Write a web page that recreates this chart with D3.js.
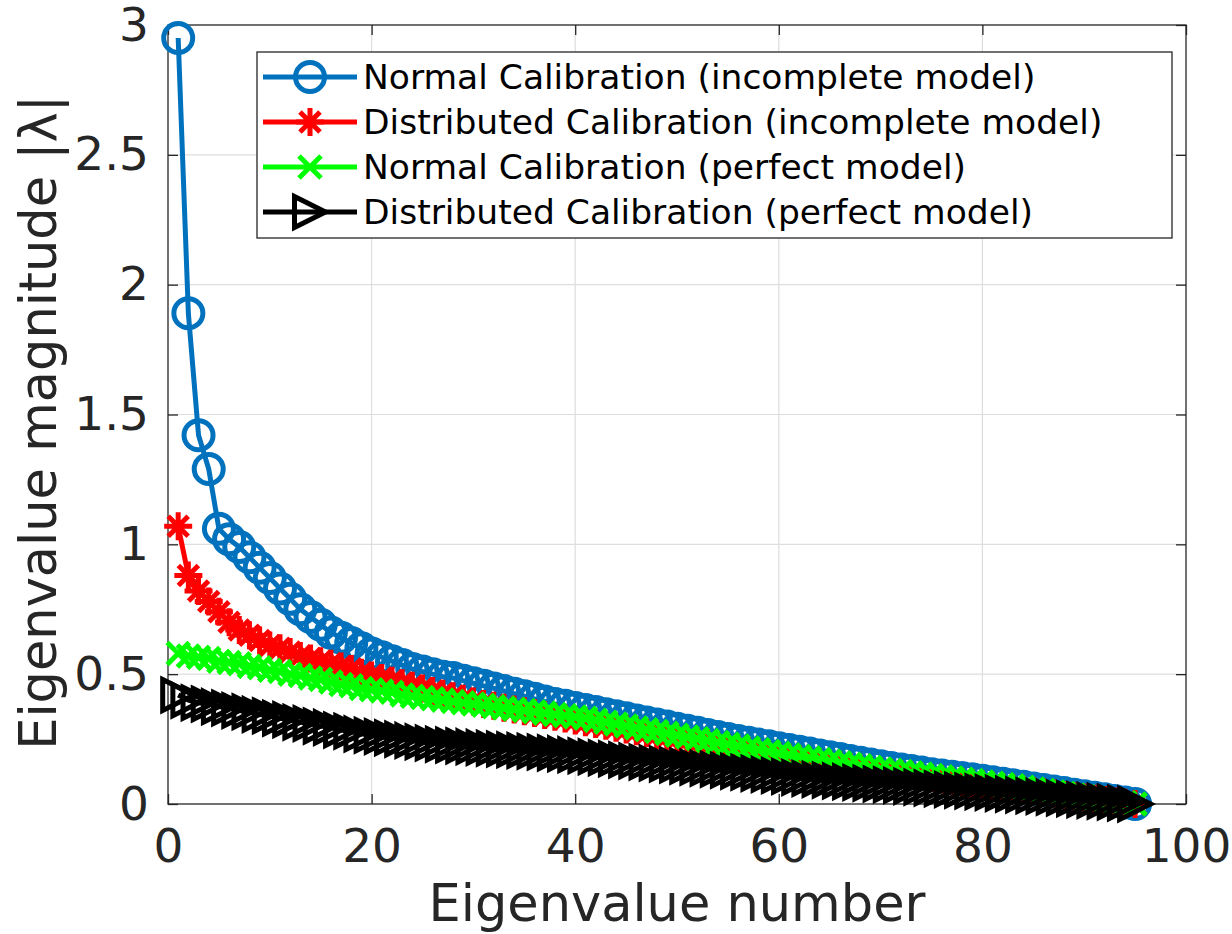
<!DOCTYPE html>
<html>
<head>
<meta charset="utf-8">
<script src="https://cdn.jsdelivr.net/npm/d3@7"></script>
<style>
  body { margin: 0; background: #fff; }
  text { font-family: "DejaVu Sans", sans-serif; }
</style>
</head>
<body>
<svg id="chart" width="1232" height="934"></svg>
<script>
// tick values
const xTicks = [0, 20, 40, 60, 80, 100];
const yTicks = [0, 0.5, 1, 1.5, 2, 2.5, 3];

// legend / series names
const seriesNames = [
  "Normal Calibration (incomplete model)",
  "Distributed Calibration (incomplete model)",
  "Normal Calibration (perfect model)",
  "Distributed Calibration (perfect model)"
];
const seriesColors = ["#0072BD", "#FF0000", "#00FF00", "#000000"];
const seriesMarkers = ["circle", "asterisk", "cross", "triangleRight"];

// eigenvalue magnitudes, eigenvalue number 1..95
const normalIncomplete = [
  2.95, 1.89, 1.42, 1.29, 1.06, 1.02, 0.99, 0.95, 0.91, 0.87,
  0.83, 0.79, 0.75, 0.72, 0.69, 0.66, 0.64, 0.62, 0.60, 0.58,
  0.565, 0.55, 0.535, 0.52, 0.51, 0.50, 0.49, 0.485, 0.475, 0.465,
  0.455, 0.445, 0.435, 0.425, 0.415, 0.405, 0.395, 0.385, 0.378, 0.37,
  0.362, 0.354, 0.346, 0.338, 0.33, 0.322, 0.314, 0.306, 0.298, 0.29,
  0.282, 0.274, 0.266, 0.258, 0.25, 0.243, 0.236, 0.229, 0.222, 0.215,
  0.208, 0.201, 0.194, 0.187, 0.18, 0.173, 0.166, 0.159, 0.152, 0.145,
  0.139, 0.133, 0.127, 0.121, 0.115, 0.11, 0.105, 0.1, 0.095, 0.09,
  0.084, 0.078, 0.072, 0.066, 0.06, 0.054, 0.048, 0.042, 0.036, 0.03,
  0.024, 0.018, 0.012, 0.006, 0.0
];
const distributedIncomplete = [
  1.07, 0.88, 0.82, 0.78, 0.74, 0.70, 0.67, 0.65, 0.63, 0.61,
  0.60, 0.585, 0.57, 0.56, 0.55, 0.54, 0.53, 0.52, 0.505, 0.495,
  0.485, 0.475, 0.465, 0.455, 0.445, 0.435, 0.425, 0.415, 0.405, 0.395,
  0.385, 0.378, 0.371, 0.364, 0.357, 0.35, 0.343, 0.336, 0.329, 0.322,
  0.315, 0.308, 0.301, 0.294, 0.287, 0.28, 0.273, 0.266, 0.259, 0.252,
  0.245, 0.238, 0.231, 0.224, 0.217, 0.21, 0.203, 0.196, 0.19, 0.184,
  0.178, 0.172, 0.166, 0.16, 0.154, 0.148, 0.142, 0.136, 0.13, 0.125,
  0.12, 0.115, 0.11, 0.105, 0.1, 0.095, 0.09, 0.085, 0.08, 0.075,
  0.07, 0.065, 0.06, 0.055, 0.05, 0.045, 0.04, 0.035, 0.03, 0.025,
  0.02, 0.015, 0.01, 0.005, 0.0
];
const normalPerfect = [
  0.58, 0.57, 0.565, 0.56, 0.55, 0.545, 0.54, 0.53, 0.525, 0.515,
  0.51, 0.50, 0.495, 0.485, 0.48, 0.47, 0.46, 0.455, 0.445, 0.44,
  0.435, 0.43, 0.42, 0.415, 0.41, 0.405, 0.40, 0.395, 0.39, 0.385,
  0.38, 0.375, 0.37, 0.365, 0.36, 0.355, 0.35, 0.345, 0.34, 0.335,
  0.33, 0.322, 0.315, 0.308, 0.30, 0.293, 0.286, 0.279, 0.272, 0.265,
  0.258, 0.251, 0.244, 0.237, 0.23, 0.223, 0.216, 0.209, 0.202, 0.195,
  0.189, 0.183, 0.177, 0.171, 0.165, 0.159, 0.153, 0.147, 0.141, 0.135,
  0.13, 0.125, 0.12, 0.115, 0.11, 0.105, 0.1, 0.095, 0.09, 0.085,
  0.08, 0.075, 0.07, 0.064, 0.058, 0.052, 0.046, 0.04, 0.034, 0.028,
  0.022, 0.016, 0.01, 0.005, 0.0
];
const distributedPerfect = [
  0.42, 0.40, 0.39, 0.385, 0.375, 0.37, 0.36, 0.355, 0.345, 0.34,
  0.33, 0.325, 0.315, 0.31, 0.30, 0.295, 0.285, 0.28, 0.27, 0.265,
  0.26, 0.255, 0.25, 0.245, 0.24, 0.235, 0.23, 0.227, 0.224, 0.221,
  0.218, 0.215, 0.212, 0.209, 0.206, 0.203, 0.2, 0.197, 0.194, 0.19,
  0.186, 0.182, 0.178, 0.174, 0.17, 0.166, 0.162, 0.158, 0.154, 0.15,
  0.146, 0.142, 0.138, 0.134, 0.13, 0.126, 0.122, 0.118, 0.114, 0.11,
  0.106, 0.102, 0.098, 0.095, 0.092, 0.089, 0.086, 0.083, 0.08, 0.077,
  0.074, 0.071, 0.068, 0.065, 0.062, 0.059, 0.056, 0.053, 0.05, 0.047,
  0.044, 0.041, 0.038, 0.035, 0.032, 0.029, 0.026, 0.023, 0.02, 0.017,
  0.014, 0.011, 0.008, 0.004, 0.0
];

const seriesValues = [normalIncomplete, distributedIncomplete, normalPerfect, distributedPerfect];

const svg = d3.select("#chart");
const margin = {top: 25, right: 46, bottom: 130, left: 168};
const width = 1232 - margin.left - margin.right;
const height = 934 - margin.top - margin.bottom;
const axisColor = "#262626";

const g = svg.append("g").attr("transform", `translate(${margin.left},${margin.top})`);

const x = d3.scaleLinear().domain([0, 100]).range([0, width]);
const y = d3.scaleLinear().domain([0, 3]).range([height, 0]);

// grid
g.append("g").selectAll("line").data(xTicks.slice(1, -1)).enter().append("line")
  .attr("x1", d => x(d)).attr("x2", d => x(d))
  .attr("y1", 0).attr("y2", height)
  .attr("stroke", "#dedede").attr("stroke-width", 1.2);
g.append("g").selectAll("line").data(yTicks.slice(1, -1)).enter().append("line")
  .attr("y1", d => y(d)).attr("y2", d => y(d))
  .attr("x1", 0).attr("x2", width)
  .attr("stroke", "#dedede").attr("stroke-width", 1.2);

// axes (inner ticks, box)
const fmt = d => String(d);
const styleAxis = sel => {
  sel.select(".domain").remove();
  sel.selectAll("line").attr("stroke", axisColor).attr("stroke-width", 1.3);
  sel.selectAll("text").attr("fill", axisColor).attr("font-size", 47);
};
g.append("g").attr("transform", `translate(0,${height})`)
  .call(d3.axisBottom(x).tickValues(xTicks).tickFormat(fmt).tickSizeInner(-10).tickSizeOuter(0))
  .call(styleAxis)
  .selectAll("text").attr("y", 58).attr("dy", null);
g.append("g")
  .call(d3.axisLeft(y).tickValues(yTicks).tickFormat(fmt).tickSizeInner(-10).tickSizeOuter(0).tickPadding(19))
  .call(styleAxis);
g.append("g")
  .call(d3.axisTop(x).tickValues(xTicks).tickFormat("").tickSizeInner(-10).tickSizeOuter(0))
  .call(styleAxis);
g.append("g").attr("transform", `translate(${width},0)`)
  .call(d3.axisRight(y).tickValues(yTicks).tickFormat("").tickSizeInner(-10).tickSizeOuter(0))
  .call(styleAxis);
g.append("rect").attr("width", width).attr("height", height)
  .attr("fill", "none").attr("stroke", axisColor).attr("stroke-width", 1.3);

// markers
function markerPath(type) {
  if (type === "circle") {
    const r = 14.5;
    return `M${-r},0A${r},${r} 0 1,0 ${r},0A${r},${r} 0 1,0 ${-r},0Z`;
  }
  if (type === "asterisk") {
    const r = 14, d = 10;
    return `M${-r},0L${r},0M0,${-r}L0,${r}M${-d},${-d}L${d},${d}M${-d},${d}L${d},${-d}`;
  }
  if (type === "cross") {
    const d = 11;
    return `M${-d},${-d}L${d},${d}M${-d},${d}L${d},${-d}`;
  }
  const r = 15.5;
  return `M${-r},${-r}L${r},0L${-r},${r}Z`;
}

const line = d3.line().x(d => x(d.n)).y(d => y(d.v));

seriesValues.forEach((vals, i) => {
  const pts = vals.map((v, k) => ({n: k + 1, v: v}));
  const s = g.append("g");
  s.append("path").datum(pts)
    .attr("d", line)
    .attr("fill", "none")
    .attr("stroke", seriesColors[i])
    .attr("stroke-width", 5)
    .attr("stroke-linejoin", "round");
  s.selectAll(".mk").data(pts).enter().append("path")
    .attr("class", "mk")
    .attr("transform", d => `translate(${x(d.n)},${y(d.v)})`)
    .attr("d", markerPath(seriesMarkers[i]))
    .attr("fill", "none")
    .attr("stroke", seriesColors[i])
    .attr("stroke-width", 5)
    .attr("stroke-linejoin", "miter");
});

// legend
const legend = svg.append("g").attr("transform", "translate(257,52)");
legend.append("rect").attr("width", 915).attr("height", 186)
  .attr("fill", "#fff").attr("stroke", axisColor).attr("stroke-width", 1.3);
seriesNames.forEach((name, i) => {
  const ry = 25 + i * 45;
  const row = legend.append("g").attr("transform", `translate(0,${ry})`);
  row.append("line").attr("x1", 6).attr("x2", 100).attr("y1", 0).attr("y2", 0)
    .attr("stroke", seriesColors[i]).attr("stroke-width", 5);
  row.append("path").attr("transform", "translate(53,0)")
    .attr("d", markerPath(seriesMarkers[i]))
    .attr("fill", "none").attr("stroke", seriesColors[i]).attr("stroke-width", 5);
  row.append("text").attr("x", 106).attr("y", 0).attr("dy", "0.36em")
    .attr("font-size", 34.5).attr("fill", "#000").text(name);
});

// axis titles
svg.append("text")
  .attr("x", margin.left + width / 2).attr("y", 921)
  .attr("text-anchor", "middle").attr("font-size", 51).attr("fill", axisColor)
  .text("Eigenvalue number");
svg.append("text")
  .attr("transform", `translate(56,${margin.top + height / 2 + 8}) rotate(-90)`)
  .attr("text-anchor", "middle").attr("font-size", 51).attr("fill", axisColor)
  .text("Eigenvalue magnitude |λ|");
</script>
</body>
</html>
